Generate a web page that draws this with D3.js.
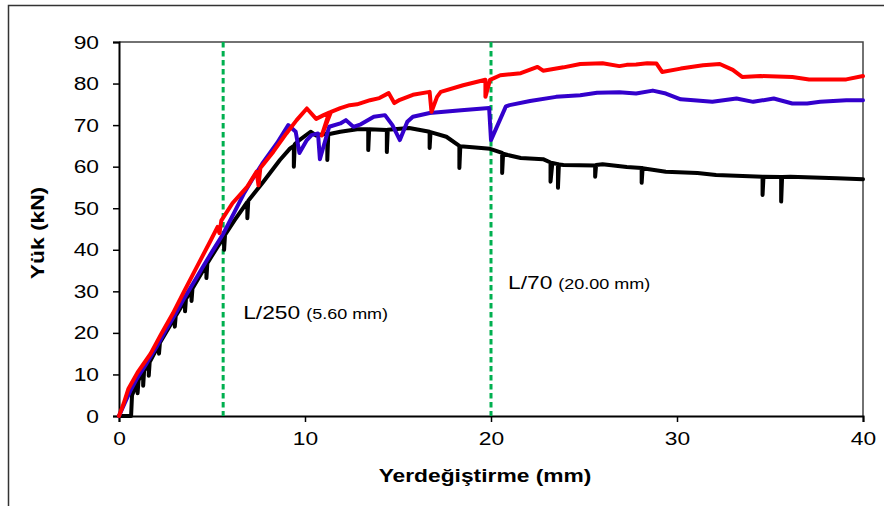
<!DOCTYPE html>
<html>
<head>
<meta charset="utf-8">
<script src="https://cdn.jsdelivr.net/npm/d3@7"></script>
<style>
  html, body { margin: 0; padding: 0; background: #fff; }
  svg { display: block; }
  text { font-family: "Liberation Sans", Arial, sans-serif; fill: #000; }
</style>
</head>
<body>
<svg id="chart" width="884" height="506"></svg>
<script>
// ---------- DATA ----------
const xTicks = [0, 10, 20, 30, 40];
const yTicks = [0, 10, 20, 30, 40, 50, 60, 70, 80, 90];
const xTitle = "Yerdeğiştirme (mm)";
const yTitle = "Yük (kN)";
const limitX = [5.6, 20];
const limitLabels = ["L/250", "L/70"];
const limitSubs = ["(5.60 mm)", "(20.00 mm)"];
const limitLabelY = [23.3, 30.6];

const redSeries = [
  [0,0],[0.25,3],[0.5,6.5],[1,10.5],[1.7,15],[2.3,20],[2.9,24.7],[3.5,30],[4.2,36],[4.9,42],
  [5.3,45.5],[5.4,44],[5.5,47],[6.1,51.2],[6.9,55.2],[7.4,58.8],[7.5,55.5],[7.6,59.7],[8.3,63.6],
  [9.0,68],[9.55,71.2],[10.1,74],[10.6,71.5],[11.0,72.4],[11.3,73],[10.9,67.5],[11.4,73.2],
  [11.9,74.1],[12.4,74.8],[12.8,75],[13.5,76],[14.0,76.5],[14.5,77.7],[14.8,75.3],[15.1,76.1],
  [15.8,77.3],[16.7,78],[16.8,73.2],[17.1,76.8],[17.3,78],[18.5,79.6],[19.7,80.9],[19.7,76.8],
  [19.95,80.9],[20.5,82],[21.6,82.5],[22.5,84],[22.8,83.1],[23.9,83.9],[24.8,84.7],[26.0,84.9],
  [26.9,84.2],[27.3,84.5],[27.8,84.6],[28.4,84.9],[28.9,84.8],[29.2,82.8],[30.2,83.6],[31.4,84.4],
  [32.3,84.7],[33.0,83.3],[33.5,81.6],[34.5,81.8],[36.2,81.6],[37.1,81.0],[39.1,81.0],[40,81.8]
];

const blueSeries = [
  [0,0],[0.3,3],[0.6,6],[1,9.3],[1.5,12.8],[2,16.5],[2.5,20.5],[3,24.3],[3.5,28.3],[4,32],
  [4.5,35.8],[5,39.5],[5.6,43.8],[6.2,49],[6.7,53.4],[7.2,57.2],[7.7,60.7],[8.5,65.7],[9.1,70],
  [9.5,68.4],[9.7,63.3],[10.1,66.4],[10.35,67.6],[10.7,68],[10.8,61.8],[11.3,69.6],[11.9,70.4],
  [12.2,71.2],[12.6,69.6],[13,70.2],[13.7,72],[14.3,72.4],[14.7,70],[15.1,66.4],[15.5,70.8],
  [15.8,72],[16.7,72.9],[18.4,73.6],[19.9,74.1],[20.0,66.4],[20.8,74.5],[21,74.8],[22.1,75.8],
  [23.5,76.8],[24.8,77.2],[25.7,77.8],[26.9,77.9],[27.8,77.6],[28.7,78.3],[29.4,77.6],[30.2,76.2],
  [30.9,76],[31.9,75.6],[33.2,76.4],[34.1,75.6],[35.2,76.4],[36.2,75.2],[37,75.2],[37.7,75.6],
  [39.1,76],[40,76]
];

const blackSeries = [
  [0,0],[0.65,0],[0.7,5],[1.0,8.3],[1.0,5.5],[1.05,8.6],[1.3,10.5],[1.3,7.3],[1.35,10.9],
  [1.6,12.6],[1.6,9.7],[1.65,13],[2.15,17.2],[2.15,15],[2.2,17.6],[3.0,23.7],[3.0,21.5],[3.05,24.1],
  [3.55,27.8],[3.55,25.2],[3.6,28.2],[3.9,30.3],[3.9,27.7],[3.95,30.7],[4.7,36.4],[4.7,33.2],
  [4.75,36.8],[5.65,43.2],[5.65,40],[5.7,43.6],[6.2,47],[6.9,51.5],[6.9,47.6],[6.95,51.8],
  [7.7,56],[8.65,61.6],[9.2,64.4],[9.4,65],[9.4,60],[9.45,65.4],[9.7,66.4],[10.3,68.4],
  [10.6,67.5],[11.2,68],[11.2,61.6],[11.25,67.8],[11.9,68.4],[12.8,69],[13.4,69],[13.4,64],
  [13.45,69],[14.4,68.8],[14.4,63.5],[14.45,68.9],[15.6,69.3],[16.7,68.4],[16.7,64.5],[16.75,68.3],
  [17.6,67.2],[18.3,65],[18.3,59.7],[18.35,64.9],[19,64.7],[19.95,64.3],[20.6,63.3],[20.6,58.5],
  [20.65,63.1],[20.9,62.8],[21.6,62.1],[22.8,61.8],[23.2,61],[23.2,56.4],[23.3,60.9],[23.6,60.6],
  [23.6,54.9],[23.65,60.5],[23.9,60.4],[25.6,60.3],[25.6,57.6],[25.65,60.4],[26,60.6],[27.3,59.9],
  [28.1,59.7],[28.1,56.1],[28.15,59.6],[28.5,59.4],[29.4,58.8],[31.1,58.5],[32.1,58],[34.6,57.6],
  [34.6,53.2],[34.65,57.6],[35.6,57.5],[35.6,51.6],[35.65,57.5],[36.1,57.6],[38.6,57.2],[40,57]
];

const seriesData = [blackSeries, blueSeries, redSeries];
const seriesColors = ["#000000", "#3300cc", "#ff0000"];

// ---------- LAYOUT ----------
const plot = { left: 119, right: 863, top: 42, bottom: 416 };
const SX = 1.2; // horizontal text stretch of the original
const labelDx = [20, 17];

const svg = d3.select("#chart");

// outer frame
svg.append("rect")
  .attr("x", 8.5).attr("y", 5.5).attr("width", 900).attr("height", 520)
  .attr("fill", "none").attr("stroke", "#333").attr("stroke-width", 1.5);

const x = d3.scaleLinear().domain([0, 40]).range([plot.left, plot.right]);
const y = d3.scaleLinear().domain([0, 90]).range([plot.bottom, plot.top]);

// plot frame (top & right)
svg.append("path")
  .attr("d", `M${plot.left},${plot.top}H${plot.right}V${plot.bottom}`)
  .attr("fill", "none").attr("stroke", "#444").attr("stroke-width", 1.5);

// axes
const xAxis = svg.append("g").attr("transform", `translate(0,${plot.bottom})`)
  .call(d3.axisBottom(x).tickValues(xTicks).tickSize(6).tickPadding(10).tickFormat(d3.format("d")));
const yAxis = svg.append("g").attr("transform", `translate(${plot.left},0)`)
  .call(d3.axisLeft(y).tickValues(yTicks).tickSize(6).tickPadding(14).tickFormat(d3.format("d")));

[xAxis, yAxis].forEach(g => {
  g.select(".domain").attr("stroke", "#000").attr("stroke-width", 2);
  g.selectAll(".tick line").attr("stroke", "#000").attr("stroke-width", 1.5);
  g.selectAll(".tick text")
    .style("font-family", '"Liberation Sans", Arial, sans-serif')
    .attr("font-size", 19).attr("fill", "#000");
});
xAxis.selectAll(".tick text").attr("transform", `scale(${SX},1)`).attr("dy", "0.71em");
yAxis.selectAll(".tick text").each(function() {
  const t = d3.select(this);
  const xx = +t.attr("x");
  t.attr("x", 0).attr("transform", `translate(${xx},0) scale(${SX},1)`);
});

// limit lines
limitX.forEach(v => {
  svg.append("line")
    .attr("x1", x(v)).attr("x2", x(v))
    .attr("y1", plot.top).attr("y2", plot.bottom)
    .attr("stroke", "#00b050").attr("stroke-width", 3)
    .attr("stroke-dasharray", "5.5,3.5");
});

// series
const line = d3.line().x(d => x(d[0])).y(d => y(d[1]));
seriesData.forEach((data, i) => {
  svg.append("path").datum(data)
    .attr("d", line)
    .attr("fill", "none").attr("stroke", seriesColors[i])
    .attr("stroke-width", 4)
    .attr("stroke-linejoin", "round").attr("stroke-linecap", "round");
});

// annotations
limitX.forEach((v, i) => {
  const t = svg.append("text")
    .attr("transform", `translate(${x(v) + labelDx[i]},${y(limitLabelY[i])}) scale(${SX},1)`)
    .attr("font-size", 19);
  t.append("tspan").text(limitLabels[i]);
  t.append("tspan").attr("font-size", 15).attr("dx", 5).text(limitSubs[i]);
});

// axis titles
svg.append("text")
  .attr("transform", `translate(${(plot.left + plot.right) / 2 - 6},482) scale(${SX},1)`)
  .attr("text-anchor", "middle").attr("font-size", 19).attr("font-weight", "bold")
  .text(xTitle);
svg.append("text")
  .attr("transform", `translate(44,${(plot.top + plot.bottom) / 2 + 4}) rotate(-90) scale(${SX},1)`)
  .attr("text-anchor", "middle").attr("font-size", 19).attr("font-weight", "bold")
  .text(yTitle);
</script>
</body>
</html>
